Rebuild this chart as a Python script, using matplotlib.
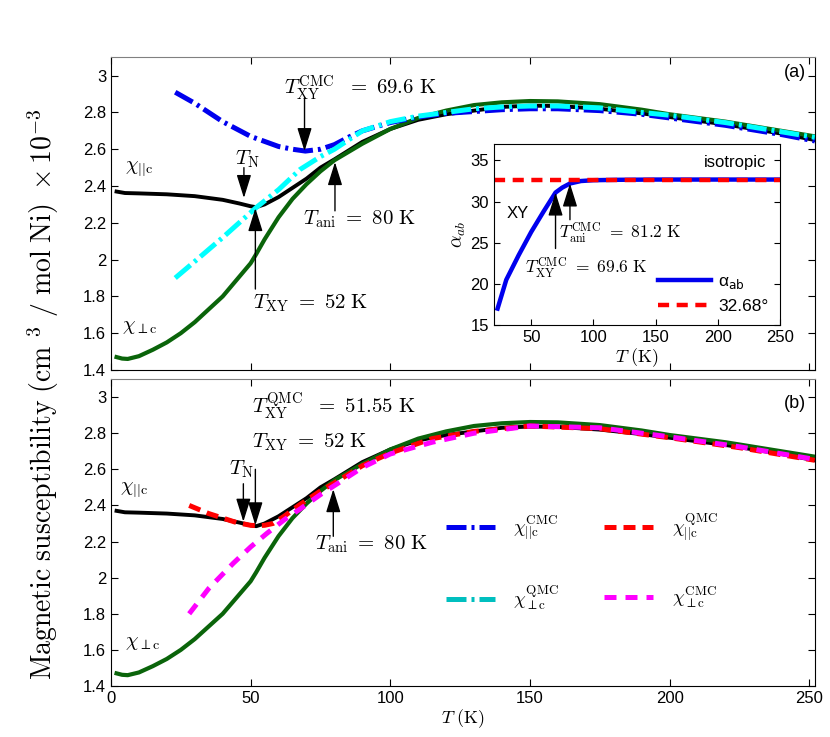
import matplotlib
matplotlib.use("Agg")
import matplotlib.pyplot as plt
from matplotlib.lines import Line2D
from matplotlib.ticker import FormatStrFormatter

plt.rcParams["mathtext.fontset"] = "cm"
plt.rcParams["font.family"] = ["Liberation Sans", "DejaVu Sans"]

# experimental data (same in both panels)
t_par = [2, 5, 10, 20, 30, 40, 46, 50, 52, 55, 60, 65, 70, 75, 80, 90, 100,
         110, 120, 130, 140, 150, 160, 175, 190, 200, 220, 240, 252]
chi_par = [2.37, 2.362, 2.36, 2.355, 2.345, 2.325, 2.305, 2.29, 2.285, 2.30,
           2.34, 2.39, 2.44, 2.50, 2.545, 2.64, 2.71, 2.76, 2.79, 2.81, 2.83,
           2.837, 2.835, 2.82, 2.795, 2.775, 2.735, 2.685, 2.65]
t_perp = [2, 4, 6, 10, 15, 20, 25, 30, 35, 40, 45, 50, 52, 55, 60, 65, 70, 75,
          80, 90, 100, 110, 120, 130, 140, 150, 160, 175, 190, 200, 220, 240, 252]
chi_perp = [1.47, 1.462, 1.46, 1.475, 1.51, 1.55, 1.60, 1.66, 1.73, 1.80,
            1.89, 1.98, 2.03, 2.11, 2.23, 2.33, 2.41, 2.48, 2.54, 2.63, 2.71,
            2.77, 2.81, 2.84, 2.855, 2.862, 2.86, 2.845, 2.815, 2.79, 2.75,
            2.70, 2.67]

# simulations, panel (a)
t_cmc_par = [23, 30, 40, 50, 60, 65, 69.6, 75, 80, 85, 90, 100, 110, 120, 130,
             140, 150, 160, 175, 190, 200, 220, 240, 252]
chi_cmc_par = [2.91, 2.85, 2.75, 2.67, 2.615, 2.60, 2.59, 2.60, 2.625, 2.665,
               2.70, 2.745, 2.775, 2.795, 2.805, 2.815, 2.82, 2.82, 2.81, 2.79,
               2.77, 2.73, 2.68, 2.645]
t_qmc_perp = [23, 30, 40, 52, 60, 67.7, 75, 80, 90, 100, 110, 120, 130, 140,
              150, 160, 175, 190, 200, 220, 240, 252]
chi_qmc_perp = [1.90, 1.99, 2.12, 2.283, 2.38, 2.49, 2.56, 2.60, 2.70, 2.75,
                2.78, 2.80, 2.82, 2.83, 2.835, 2.835, 2.825, 2.80, 2.785, 2.745,
                2.695, 2.665]

# simulations, panel (b)
t_qmc_par = [28, 35, 40, 45, 50, 52, 55, 58, 62, 67.7, 75, 80, 90, 100, 115,
             130, 150, 175, 200, 225, 252]
chi_qmc_par = [2.40, 2.355, 2.33, 2.305, 2.29, 2.288, 2.29, 2.30, 2.34, 2.405,
               2.48, 2.525, 2.62, 2.69, 2.77, 2.81, 2.84, 2.825, 2.775, 2.72,
               2.65]
t_cmc_perp = [28, 35, 43.8, 50, 55.8, 62, 67.7, 75, 80, 90, 100, 115, 130, 150,
              175, 200, 225, 252]
chi_cmc_perp = [1.80, 1.94, 2.08, 2.17, 2.245, 2.32, 2.38, 2.46, 2.51, 2.61,
                2.685, 2.75, 2.80, 2.84, 2.83, 2.78, 2.725, 2.655]

# inset: angle alpha_ab
t_alpha = [23, 30, 40, 50, 60, 69.6, 75, 81.2, 90, 100, 120, 150, 200, 250]
alpha_ab = [17.0, 20.5, 23.5, 26.3, 28.8, 31.1, 31.7, 32.2, 32.5, 32.6, 32.65,
            32.68, 32.68, 32.68]
t_iso = [20, 250]
alpha_iso = [32.68, 32.68]

green = "#0a640a"
sans = 12
ann = 15
arrow = dict(arrowstyle="-|>,head_length=0.8,head_width=0.25", color="k",
             lw=1, mutation_scale=18, shrinkA=0, shrinkB=0)


def style_main(ax):
    ax.set_xlim(0, 252)
    ax.set_ylim(1.4, 3.1)
    ax.set_xticks([0, 50, 100, 150, 200, 250])
    ax.set_yticks([1.4, 1.6, 1.8, 2.0, 2.2, 2.4, 2.6, 2.8, 3.0])
    ax.yaxis.set_major_formatter(FormatStrFormatter("%g"))
    ax.tick_params(direction="in", top=True, right=True, length=5,
                   labelsize=sans)
    ax.spines["top"].set_color("0.5")


fig = plt.figure(figsize=(8.3, 7.37), dpi=100)
ax1 = fig.add_axes([0.1337, 0.498, 0.848, 0.4243])
ax2 = fig.add_axes([0.1337, 0.0692, 0.848, 0.4165])

# panel (a)
ax1.plot(t_par, chi_par, color="k", lw=2.8)
ax1.plot(t_perp, chi_perp, color=green, lw=3)
ax1.plot(t_cmc_par, chi_cmc_par, color="#0000ee", lw=3.6, dashes=(4, 1, 0.6, 1))
ax1.plot(t_qmc_perp, chi_qmc_perp, color="#00ffff", lw=3.6, dashes=(4, 1, 0.6, 1))
style_main(ax1)
ax1.set_xticklabels([])

ax1.text(5, 2.49, r"$\chi_{||{\rm c}}$", fontsize=14.5)
ax1.text(4, 1.62, r"$\chi_{\perp{\rm c}}$", fontsize=14.5)
ax1.text(245, 2.99, "(a)", fontsize=13, ha="center")
ax1.text(62, 2.93, r"$T_{\rm XY}^{\rm CMC}\ \ =\ 69.6\ {\rm K}$", fontsize=ann,
         va="center")
ax1.annotate("", xy=(69.3, 2.59), xytext=(69.3, 2.88), arrowprops=arrow)
ax1.text(44.5, 2.546, r"$T_{\rm N}$", fontsize=ann, va="center")
ax1.annotate("", xy=(47.6, 2.335), xytext=(47.6, 2.50), arrowprops=arrow)
ax1.text(51, 1.762, r"$T_{\rm XY}\ =\ 52\ {\rm K}$", fontsize=ann, va="center")
ax1.annotate("", xy=(51.7, 2.28), xytext=(51.7, 1.84), arrowprops=arrow)
ax1.text(68.8, 2.22, r"$T_{\rm ani}\ =\ 80\ {\rm K}$", fontsize=ann,
         va="center")
ax1.annotate("", xy=(80.2, 2.53), xytext=(80.2, 2.265), arrowprops=arrow)

# inset
axi = fig.add_axes([0.595, 0.559, 0.3446, 0.2456])
axi.plot(t_alpha, alpha_ab, color="#0000ee", lw=3.2, label="α$_{\\rm ab}$")
axi.plot(t_iso, alpha_iso, color="#ff0000", lw=3.2, dashes=(2.5, 1.7),
         label="32.68°")
axi.set_xlim(20, 250)
axi.set_ylim(15, 37)
axi.set_xticks([50, 100, 150, 200, 250])
axi.set_yticks([15, 20, 25, 30, 35])
axi.tick_params(direction="in", right=True, top=False, length=4, labelsize=sans)
axi.set_xlabel(r"$T\ {\rm (K)}$", fontsize=13, labelpad=1)
axi.set_ylabel(r"$\alpha_{ab}$", fontsize=14, labelpad=2)
axi.text(30.5, 28.6, "XY", fontsize=sans, va="center")
axi.text(239, 34.8, "isotropic", fontsize=sans, ha="right", va="center")
axi.text(72.5, 26.2, r"$T_{\rm ani}^{\rm CMC}\ =\ 81.2\ {\rm K}$", fontsize=12.5,
         va="center")
axi.text(45, 22.0, r"$T_{\rm XY}^{\rm CMC}\ =\ 69.6\ {\rm K}$", fontsize=12.5,
         va="center")
axi.annotate("", xy=(69.6, 31.1), xytext=(69.6, 24.3), arrowprops=arrow)
axi.annotate("", xy=(81.2, 32.2), xytext=(81.2, 27.8), arrowprops=arrow)
axi.legend(loc="lower right", frameon=False, handlelength=3.1,
           handletextpad=0.4, labelspacing=0.45, borderaxespad=0.25,
           prop={"family": "Liberation Sans", "size": 12.5,
                 "math_fontfamily": "dejavusans"})

# panel (b)
ax2.plot(t_par, chi_par, color="k", lw=2.8)
ax2.plot(t_perp, chi_perp, color=green, lw=3)
ax2.plot(t_qmc_par, chi_qmc_par, color="#ff0000", lw=3.6, dashes=(2.4, 1.4))
ax2.plot(t_cmc_perp, chi_cmc_perp, color="#ff00ff", lw=3.6, dashes=(2.4, 1.8))
style_main(ax2)
ax2.set_xlabel(r"$T\ {\rm (K)}$", fontsize=13, labelpad=1)

ax2.text(3.3, 2.48, r"$\chi_{||{\rm c}}$", fontsize=14.5)
ax2.text(5, 1.62, r"$\chi_{\perp{\rm c}}$", fontsize=14.5)
ax2.text(245, 2.94, "(b)", fontsize=13, ha="center")
ax2.text(50.4, 2.95, r"$T_{\rm XY}^{\rm QMC}\ \ =\ 51.55\ {\rm K}$", fontsize=ann,
         va="center")
ax2.text(50.4, 2.748, r"$T_{\rm XY}\ =\ 52\ {\rm K}$", fontsize=ann, va="center")
ax2.text(42.3, 2.60, r"$T_{\rm N}$", fontsize=ann, va="center")
ax2.annotate("", xy=(47.4, 2.31), xytext=(47.4, 2.52), arrowprops=arrow)
ax2.annotate("", xy=(51.7, 2.29), xytext=(51.7, 2.60), arrowprops=arrow)
ax2.text(73, 2.183, r"$T_{\rm ani}\ =\ 80\ {\rm K}$", fontsize=ann, va="center")
ax2.annotate("", xy=(79.6, 2.49), xytext=(79.6, 2.229), arrowprops=arrow)

handles = [
    Line2D([], [], color="#0000ee", lw=3.6, dashes=(4, 1, 0.6, 1)),
    Line2D([], [], color="#00bfbf", lw=3.6, dashes=(4, 1, 0.6, 1)),
    Line2D([], [], color="#ff0000", lw=3.6, dashes=(2.4, 1.4)),
    Line2D([], [], color="#ff00ff", lw=3.6, dashes=(2.4, 1.8)),
]
labels = [r"$\chi_{||{\rm c}}^{\rm CMC}$", r"$\chi_{\perp{\rm c}}^{\rm QMC}$",
          r"$\chi_{||{\rm c}}^{\rm QMC}$", r"$\chi_{\perp{\rm c}}^{\rm CMC}$"]
ax2.legend(handles, labels, ncol=2, loc="upper left",
           bbox_to_anchor=(0.452, 0.625), frameon=False, fontsize=13.5,
           handlelength=2.6, handletextpad=1.0, labelspacing=2.2,
           columnspacing=2.4)

fig.text(0.052, 0.465,
         r"${\rm Magnetic\ susceptibility\ (cm\ ^3\ /\ mol\ Ni)}\ \times 10^{-3}$",
         rotation=90, fontsize=20, ha="center", va="center")

fig.savefig("out.png", dpi=100)
